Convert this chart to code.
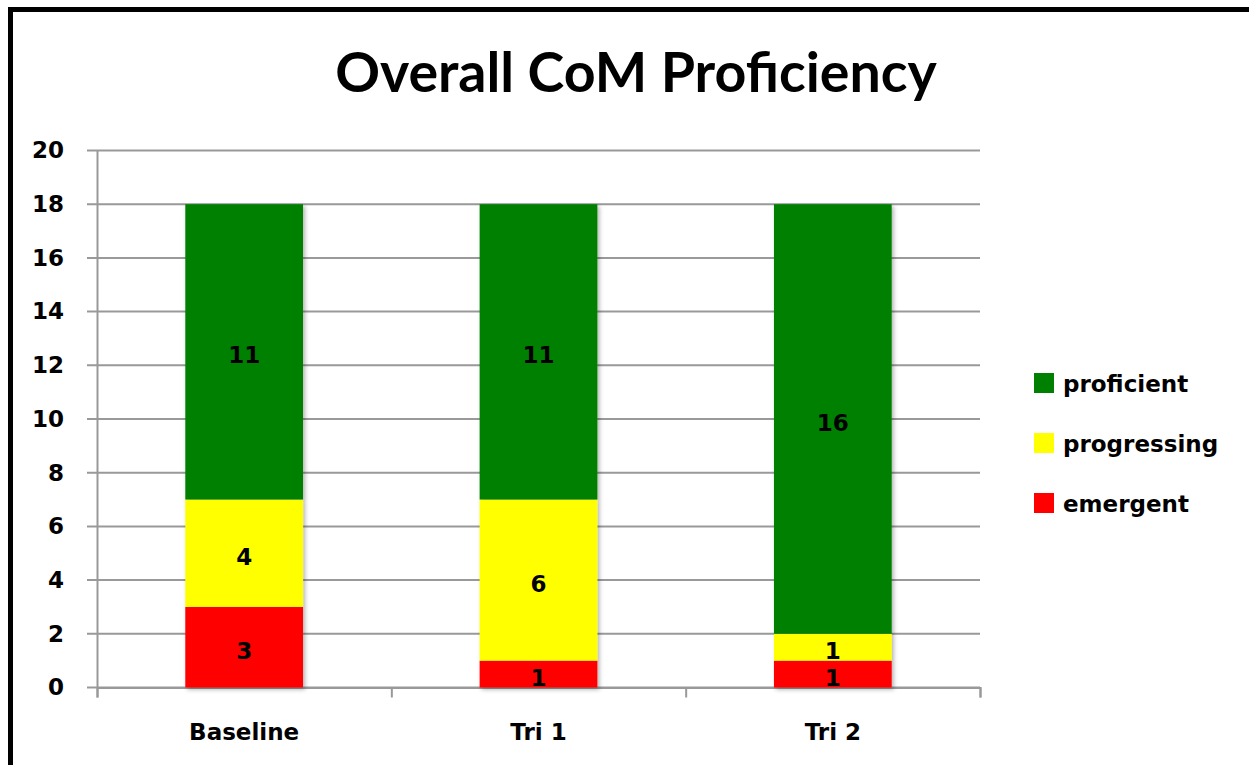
<!DOCTYPE html>
<html>
<head>
<meta charset="utf-8">
<script src="https://cdn.jsdelivr.net/npm/d3@7"></script>
<style>
  body { margin: 0; background: #fff; }
  text { font-family: "DejaVu Sans", sans-serif; font-weight: bold; fill: #000; }
  text.title { font-family: Lato, sans-serif; }
</style>
</head>
<body>
<script>
// Data
const categories = ['Baseline', 'Tri 1', 'Tri 2'];
const seriesNames = ['emergent', 'progressing', 'proficient'];
const emergent = [3, 1, 1];
const progressing = [4, 6, 1];
const proficient = [11, 11, 16];
const yTicks = [0, 2, 4, 6, 8, 10, 12, 14, 16, 18, 20];
const colors = { emergent: '#ff0000', progressing: '#ffff00', proficient: '#008000' };

const w = 1249;
const h = 765;
const margin = { left: 97, right: 269, top: 150.5, bottom: 77.5 };

const table = categories.map((c, i) => ({
  cat: c,
  emergent: emergent[i],
  progressing: progressing[i],
  proficient: proficient[i]
}));
const stacked = d3.stack().keys(seriesNames)(table);

const svg = d3
  .select('body')
  .append('svg')
  .attr('width', w)
  .attr('height', h);

// Frame (left and top only visible)
svg
  .append('rect')
  .attr('x', 10.5)
  .attr('y', 9.5)
  .attr('width', 1300)
  .attr('height', 800)
  .attr('fill', 'none')
  .attr('stroke', '#000')
  .attr('stroke-width', 5);

const defs = svg.append('defs');
const shadow = defs
  .append('filter')
  .attr('id', 'shadow')
  .attr('x', '-10%')
  .attr('y', '-10%')
  .attr('width', '130%')
  .attr('height', '130%');
shadow
  .append('feDropShadow')
  .attr('dx', 2)
  .attr('dy', 2)
  .attr('stdDeviation', 2)
  .attr('flood-color', '#000')
  .attr('flood-opacity', 0.3);

const xScale = d3
  .scaleBand()
  .domain(categories)
  .range([margin.left, w - margin.right])
  .paddingInner(0.6)
  .paddingOuter(0.3);

const xAxisScale = d3
  .scaleLinear()
  .domain([0, categories.length])
  .range([margin.left, w - margin.right]);

const yScale = d3
  .scaleLinear()
  .domain([0, 20])
  .range([h - margin.bottom, margin.top]);

// Gridlines
svg
  .append('g')
  .selectAll('line')
  .data(yTicks)
  .enter()
  .append('line')
  .attr('x1', margin.left - 10)
  .attr('x2', w - margin.right)
  .attr('y1', d => yScale(d))
  .attr('y2', d => yScale(d))
  .attr('stroke', '#999')
  .attr('stroke-width', 2);

// Y axis
const yAxis = d3
  .axisLeft(yScale)
  .tickValues(yTicks)
  .tickSize(0)
  .tickPadding(33);
const yG = svg
  .append('g')
  .attr('transform', 'translate(' + margin.left + ',0)')
  .call(yAxis);
yG.select('.domain').attr('stroke', '#999').attr('stroke-width', 2);
yG.selectAll('text')
  .attr('font-size', 23)
  .attr('fill', '#000');

// X axis (ticks between categories)
const xAxis = d3
  .axisBottom(xAxisScale)
  .tickValues([0, 1, 2, 3])
  .tickSize(10)
  .tickFormat('');
const xG = svg
  .append('g')
  .attr('transform', 'translate(0,' + yScale(0) + ')')
  .call(xAxis);
xG.select('.domain').attr('stroke', '#999').attr('stroke-width', 2);
xG.selectAll('.tick line').attr('stroke', '#999').attr('stroke-width', 2);

svg
  .append('g')
  .selectAll('text')
  .data(categories)
  .enter()
  .append('text')
  .attr('x', d => xScale(d) + xScale.bandwidth() / 2)
  .attr('y', 740)
  .attr('text-anchor', 'middle')
  .attr('font-size', 23)
  .text(d => d);

// Bars
const layers = svg
  .append('g')
  .attr('filter', 'url(#shadow)')
  .selectAll('g')
  .data(stacked)
  .enter()
  .append('g')
  .attr('fill', d => colors[d.key]);

layers
  .selectAll('rect')
  .data(d => d)
  .enter()
  .append('rect')
  .attr('x', d => xScale(d.data.cat))
  .attr('y', d => yScale(d[1]))
  .attr('width', xScale.bandwidth())
  .attr('height', d => yScale(d[0]) - yScale(d[1]));

// Data labels
const labels = svg.append('g');
stacked.forEach(layer => {
  layer.forEach(d => {
    labels
      .append('text')
      .attr('x', xScale(d.data.cat) + xScale.bandwidth() / 2)
      .attr('y', (yScale(d[0]) + yScale(d[1])) / 2)
      .attr('dy', '0.5em')
      .attr('text-anchor', 'middle')
      .attr('font-size', 23)
      .text(d[1] - d[0]);
  });
});

// Title
svg
  .append('text')
  .attr('class', 'title')
  .attr('x', 636)
  .attr('y', 92)
  .attr('text-anchor', 'middle')
  .attr('font-size', 55.5)
  .text('Overall CoM Proficiency');

// Legend
const legendItems = ['proficient', 'progressing', 'emergent'];
const legend = svg
  .append('g')
  .selectAll('g')
  .data(legendItems)
  .enter()
  .append('g')
  .attr('transform', (d, i) => 'translate(1034,' + (373 + i * 60) + ')');
legend
  .append('rect')
  .attr('width', 20)
  .attr('height', 20)
  .attr('fill', d => colors[d]);
legend
  .append('text')
  .attr('x', 29)
  .attr('y', 19)
  .attr('font-size', 23)
  .text(d => d);
</script>
</body>
</html>
